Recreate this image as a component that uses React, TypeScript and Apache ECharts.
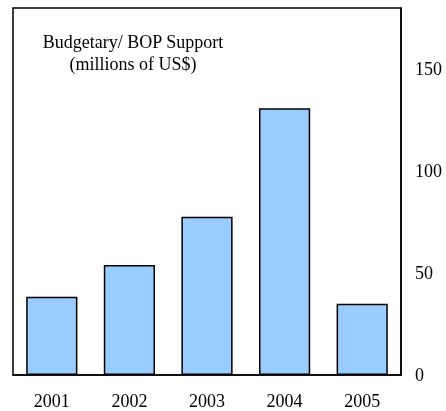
import React, { useEffect, useRef } from "react";
import * as echarts from "echarts";

const years = ["2001", "2002", "2003", "2004", "2005"];
const support = [38.4, 54, 77.6, 130.8, 35];
const titleLines = ["Budgetary/ BOP Support", "(millions of US$)"];

export default function App() {
  const ref = useRef<HTMLDivElement>(null);
  useEffect(() => {
    const chart = echarts.init(ref.current!, null, { renderer: "svg" });
    const font = "'Liberation Serif', 'Times New Roman', serif";
    chart.setOption({
      animation: false,
      grid: {
        left: 13,
        right: 45,
        top: 8,
        bottom: 36,
        show: true,
        borderColor: "#000",
        borderWidth: 1.5,
        backgroundColor: "transparent",
      },
      xAxis: {
        type: "category",
        data: years,
        axisLine: { lineStyle: { color: "#000", width: 1.5 } },
        axisTick: { show: false },
        axisLabel: { color: "#000", fontFamily: font, fontSize: 18, margin: 17 },
      },
      yAxis: {
        type: "value",
        position: "right",
        min: 0,
        max: 180,
        interval: 50,
        axisLine: { show: true, lineStyle: { color: "#000", width: 1.5 } },
        axisTick: { show: false },
        splitLine: { show: false },
        axisLabel: {
          color: "#000",
          fontFamily: font,
          fontSize: 18,
          margin: 14,
          showMaxLabel: false,
        },
      },
      series: [
        {
          type: "bar",
          data: support,
          barCategoryGap: "34%",
          itemStyle: { color: "#99CCFF", borderColor: "#000", borderWidth: 1.5 },
        },
      ],
      graphic: titleLines.map((t, i) => ({
        type: "text",
        x: 133,
        y: 42 + i * 22,
        style: {
          text: t,
          fill: "#000",
          font: `18px ${font}`,
          textAlign: "center",
          textVerticalAlign: "middle",
        },
      })),
    });
    return () => chart.dispose();
  }, []);
  return <div ref={ref} style={{ width: 446, height: 411, position: "fixed", left: 0, top: 0 }} />;
}
